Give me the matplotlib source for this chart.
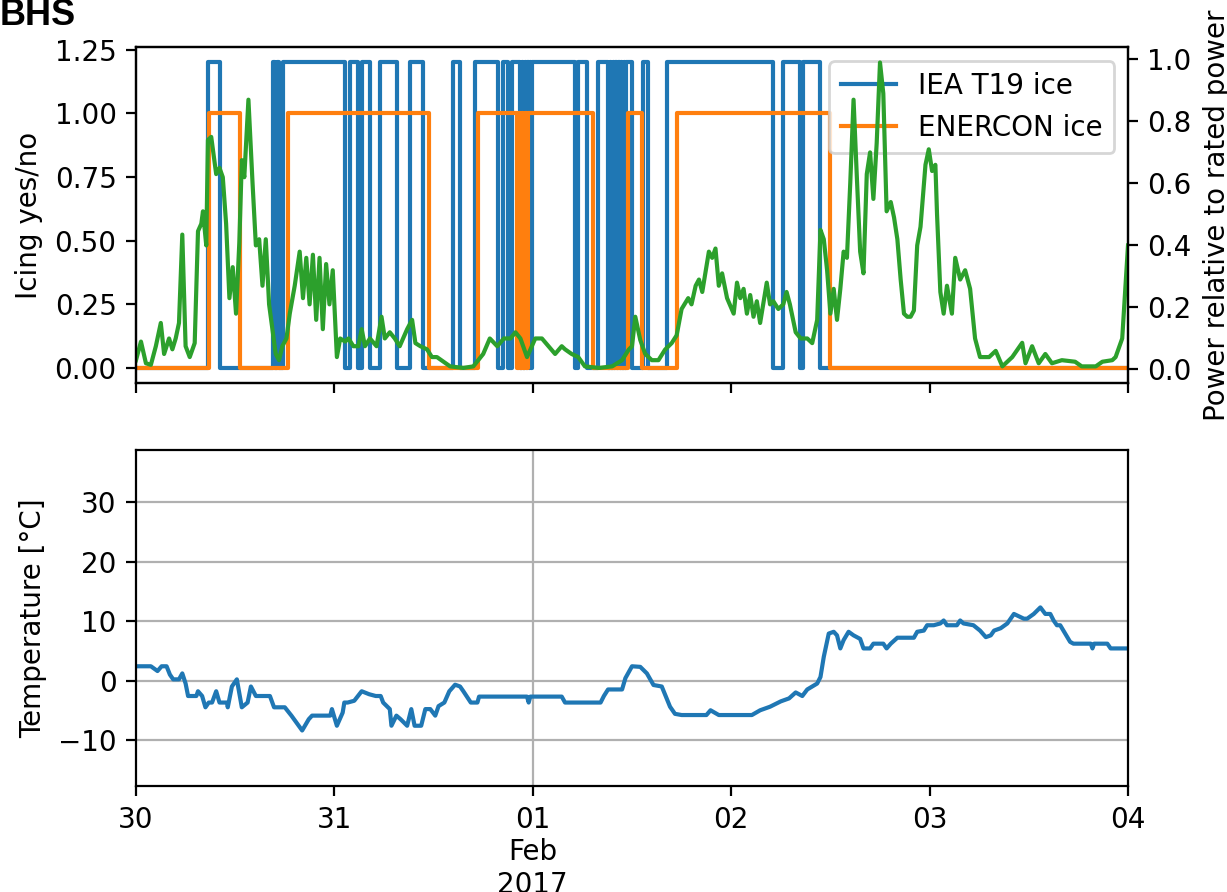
import numpy as np
import pandas as pd
import matplotlib
matplotlib.use("Agg")
import matplotlib.pyplot as plt

# ---------------- data ----------------
start_time = "2017-01-30 00:00"
end_time = "2017-02-04 00:00"

# icing periods, hours since start
iea_ice_periods = [
    (8.75, 10.17), (16.58, 16.82), (17.0, 17.25), (17.79, 25.3), (25.9, 26.87),
    (27.35, 28.32), (29.53, 31.59), (33.16, 34.74), (38.37, 39.21), (41.03, 43.81),
    (44.42, 45.02), (45.51, 46.48), (46.67, 46.83), (47.0, 47.17), (47.33, 47.5),
    (47.67, 47.83), (47.93, 53.13), (53.5, 54.58), (55.91, 57.12), (57.33, 57.5),
    (57.67, 57.83), (58.0, 58.17), (58.33, 58.5), (58.67, 58.83), (59.0, 59.17),
    (59.33, 60.03), (61.36, 61.97), (64.27, 77.1), (78.31, 80.37), (80.73, 82.79),
]
iea_level = 1.2

enercon_ice_periods = [
    (8.87, 12.6), (18.35, 35.46), (41.35, 46.11), (46.29, 46.47), (46.66, 46.84),
    (47.02, 47.26), (47.44, 55.31), (59.55, 61.24), (65.48, 84.0),
]
enercon_level = 1.0

power_hours = [
    0.0, 0.6, 1.2, 1.8, 2.4, 3.0, 3.4, 4.0, 4.4, 4.8, 5.2, 5.6, 6.0, 6.5, 7.1, 7.5, 7.9,
    8.1, 8.5, 8.7, 9.1, 9.7, 10.1, 10.5, 10.9, 11.3, 11.7, 12.1, 12.5, 12.8, 13.1, 13.6,
    14.1, 14.5, 14.9, 15.3, 15.7, 16.1, 16.9, 17.3, 17.7, 18.2, 18.6, 19.2, 19.8, 20.2,
    20.6, 21.0, 21.4, 21.8, 22.2, 22.6, 23.0, 23.4, 23.8, 24.3, 24.7, 25.3, 25.7, 26.3,
    26.9, 27.3, 27.7, 28.3, 29.1, 29.7, 30.1, 30.7, 31.3, 31.9, 32.8, 33.4, 33.8, 34.4,
    35.2, 35.8, 36.4, 37.2, 38.0, 39.6, 40.8, 42.0, 42.8, 43.7, 44.5, 45.3, 45.9, 46.5,
    47.3, 48.3, 49.1, 49.9, 50.7, 51.5, 51.9, 52.7, 53.5, 54.3, 56.0, 57.6, 58.8, 59.6,
    60.0, 60.4, 61.0, 61.6, 62.4, 63.2, 64.0, 64.8, 65.4, 66.0, 66.8, 67.2, 67.7, 68.1,
    68.5, 69.3, 69.7, 70.1, 70.5, 70.9, 71.5, 72.3, 72.7, 73.1, 73.5, 73.9, 74.3, 74.7,
    75.1, 75.5, 76.3, 76.7, 77.1, 77.7, 78.3, 78.7, 79.1, 79.8, 80.4, 81.2, 81.8, 82.4,
    82.8, 83.2, 83.6, 84.0, 84.4, 84.8, 85.2, 85.6, 86.0, 86.4, 86.8, 87.2, 87.6, 88.0,
    88.4, 88.8, 89.2, 89.6, 90.0, 90.4, 90.8, 91.3, 91.7, 92.1, 92.5, 92.9, 93.3, 93.7,
    94.1, 94.5, 94.9, 95.5, 95.9, 96.3, 96.7, 96.9, 97.3, 97.7, 98.1, 98.7, 99.1, 99.7,
    100.3, 100.9, 101.5, 102.1, 103.2, 104.0, 104.8, 106.0, 107.2, 107.6, 108.4, 109.2,
    110.0, 110.8, 112.0, 113.6, 114.4, 116.1, 116.9, 118.1, 118.5, 119.3, 120.0,
]
power_values = [
    0.03, 0.09, 0.02, 0.015, 0.075, 0.15, 0.05, 0.10, 0.065, 0.10, 0.15, 0.435, 0.075, 0.04,
    0.085, 0.446, 0.47, 0.51, 0.40, 0.74, 0.75, 0.63, 0.65, 0.62, 0.47, 0.23, 0.33, 0.18,
    0.41, 0.675, 0.62, 0.87, 0.60, 0.40, 0.42, 0.27, 0.42, 0.21, 0.05, 0.03, 0.075, 0.10,
    0.18, 0.27, 0.38, 0.23, 0.36, 0.21, 0.37, 0.16, 0.36, 0.13, 0.34, 0.21, 0.32, 0.04,
    0.10, 0.09, 0.10, 0.075, 0.075, 0.13, 0.075, 0.10, 0.075, 0.17, 0.10, 0.12, 0.10,
    0.075, 0.13, 0.16, 0.085, 0.075, 0.065, 0.04, 0.04, 0.025, 0.01, 0.005, 0.01, 0.05,
    0.10, 0.075, 0.10, 0.10, 0.12, 0.10, 0.04, 0.10, 0.10, 0.075, 0.05, 0.075, 0.065,
    0.05, 0.04, 0.01, 0.005, 0.01, 0.03, 0.064, 0.075, 0.17, 0.095, 0.05, 0.03, 0.03,
    0.064, 0.085, 0.11, 0.195, 0.23, 0.21, 0.27, 0.29, 0.25, 0.38, 0.36, 0.39, 0.27,
    0.31, 0.23, 0.18, 0.28, 0.23, 0.26, 0.18, 0.24, 0.17, 0.22, 0.15, 0.28, 0.21, 0.22,
    0.195, 0.21, 0.25, 0.21, 0.12, 0.10, 0.10, 0.085, 0.16, 0.45, 0.42, 0.32, 0.18, 0.26,
    0.16, 0.26, 0.38, 0.36, 0.60, 0.87, 0.62, 0.38, 0.31, 0.63, 0.70, 0.55, 0.73, 0.99,
    0.89, 0.51, 0.54, 0.49, 0.42, 0.29, 0.18, 0.17, 0.17, 0.19, 0.40, 0.46, 0.66, 0.71,
    0.64, 0.66, 0.50, 0.25, 0.18, 0.27, 0.18, 0.36, 0.29, 0.32, 0.26, 0.10, 0.04, 0.04,
    0.06, 0.01, 0.04, 0.086, 0.02, 0.075, 0.02, 0.05, 0.02, 0.03, 0.025, 0.01, 0.01,
    0.025, 0.03, 0.04, 0.10, 0.40,
]

temp_hours = [
    0.0, 1.8, 2.6, 3.1, 3.7, 4.1, 4.5, 5.2, 5.6, 6.0, 6.3, 7.3, 7.5, 8.0, 8.4, 8.8, 9.2,
    9.7, 10.1, 11.0, 11.1, 11.6, 12.2, 12.8, 13.5, 13.9, 14.5, 16.2, 16.7, 18.0, 18.8,
    20.1, 20.9, 21.3, 23.5, 23.7, 24.3, 25.0, 25.2, 25.6, 26.4, 27.3, 28.2, 29.0, 29.6,
    29.9, 30.7, 30.9, 31.5, 32.0, 32.8, 33.3, 33.7, 34.5, 35.0, 35.6, 36.2, 36.6, 37.3,
    37.9, 38.6, 39.2, 39.6, 40.5, 41.3, 41.5, 47.3, 47.5, 47.7, 51.5, 51.9, 56.2, 56.6,
    57.1, 58.8, 59.2, 60.0, 61.0, 61.8, 62.6, 63.6, 64.6, 65.2, 66.0, 69.0, 69.5, 70.5,
    74.5, 75.5, 76.7, 78.0, 79.0, 79.8, 80.6, 81.2, 81.8, 82.4, 82.8, 83.2,
    83.8, 84.4, 84.8, 85.2, 85.6, 86.2, 86.8, 87.6, 88.0, 88.8, 89.2, 90.4, 90.8, 91.3,
    92.1, 94.1, 94.5, 95.3, 95.7, 96.5, 97.3, 97.7, 98.1, 99.3, 99.7, 100.1, 101.3, 102.1,
    102.8, 103.4, 103.8, 104.6, 105.4, 105.8, 106.2, 107.4, 107.8, 108.6, 109.4, 110.0,
    110.6, 111.0, 111.4, 111.8, 113.0, 113.4, 115.5, 115.7, 115.9, 117.5, 117.9, 120.0,
]
temp_values = [
    2.4, 2.4, 1.6, 2.4, 2.4, 1.0, 0.2, 0.2, 1.2, -0.5, -2.6, -2.6, -1.8, -2.6, -4.5, -3.7,
    -3.7, -1.8, -3.7, -3.7, -4.5, -1.0, 0.2, -4.5, -3.7, -1.0, -2.6, -2.6, -4.5, -4.5,
    -5.9, -8.4, -6.5, -5.9, -5.9, -4.8, -7.6, -5.4, -3.7, -3.7, -3.4, -1.8, -2.3, -2.6,
    -2.6, -3.7, -4.8, -7.6, -5.9, -6.5, -7.6, -4.8, -7.6, -7.6, -4.8, -4.8, -5.9, -4.3,
    -3.7, -1.8, -0.7, -1.0, -1.8, -3.7, -3.7, -2.7, -2.7, -3.7, -2.7, -2.7, -3.7, -3.7,
    -2.6, -1.5, -1.5, 0.4, 2.4, 2.3, 1.2, -0.75, -1.0, -4.4, -5.6, -5.8, -5.8, -5.0, -5.8,
    -5.8, -5.0, -4.4, -3.5, -3.0, -2.0, -2.6, -1.5, -1.0, -0.5, 0.6, 4.0,
    7.9, 8.2, 7.6, 5.4, 6.8, 8.2, 7.6, 7.0, 5.4, 5.4, 6.2, 6.2, 5.4, 6.2,
    7.2, 7.2, 8.2, 8.4, 9.3, 9.3, 9.6, 10.1, 9.3, 9.3, 10.1, 9.6, 9.3, 8.4,
    7.3, 7.6, 8.4, 8.8, 9.6, 10.4, 11.2, 10.4, 10.4, 11.2, 12.3, 11.2,
    11.2, 10.1, 9.3, 9.3, 6.5, 6.2, 6.2, 5.4, 6.2, 6.2, 5.4, 5.4,
]

day_ticks = ["2017-01-30", "2017-01-31", "2017-02-01", "2017-02-02", "2017-02-03", "2017-02-04"]
day_labels = ["30", "31", "01\nFeb\n2017", "02", "03", "04"]
month_start = "2017-02-01"

icing_ticks = [0.0, 0.25, 0.5, 0.75, 1.0, 1.25]
power_ticks = [0.0, 0.2, 0.4, 0.6, 0.8, 1.0]
temp_ticks = [-10, 0, 10, 20, 30]
temp_limits = (-17.8, 38.7)

# ---------------- helpers ----------------
t0 = pd.Timestamp(start_time)


def to_time(hours):
    return t0 + pd.to_timedelta(np.asarray(hours, dtype=float), unit="h")


def step_series(periods, level, total_hours=120.0):
    hrs, vals = [0.0], [0.0]
    for s, e in periods:
        hrs += [s, s, e, e]
        vals += [0.0, level, level, 0.0]
    hrs.append(total_hours)
    vals.append(0.0)
    return hrs, vals


plt.rcParams["font.family"] = ["DejaVu Sans"]
plt.rcParams["font.size"] = 10

W, H, DPI = 1227, 892, 200
fig = plt.figure(figsize=(W / DPI, H / DPI), dpi=DPI)

left = 136 / W
width = 992 / W
ax_h = 336 / H
ax1 = fig.add_axes([left, (H - 383.2) / H, width, ax_h])
ax3 = fig.add_axes([left, (H - 786.4) / H, width, ax_h], sharex=ax1)
ax2 = ax1.twinx()

ih, iv = step_series(iea_ice_periods, iea_level)
eh, ev = step_series(enercon_ice_periods, enercon_level)
ax1.plot(to_time(ih), iv, color="C0", lw=1.5, label="IEA T19 ice")
ax1.plot(to_time(eh), ev, color="C1", lw=1.5, label="ENERCON ice")
ax1.set_yticks(icing_ticks)
ax1.set_ylabel("Icing yes/no")
ax1.legend(loc="upper right")

ax2.plot(to_time(power_hours), power_values, color="C2", lw=1.5)
ax2.set_yticks(power_ticks)
ax2.set_ylabel("Power relative to rated power")

ax3.plot(to_time(temp_hours), temp_values, color="C0", lw=1.5)
ax3.set_ylim(*temp_limits)
ax3.set_yticks(temp_ticks)
ax3.set_ylabel("Temperature [°C]")
ax3.grid(True, axis="y", color="#b0b0b0", lw=0.8)
ax3.axvline(pd.Timestamp(month_start), color="#b0b0b0", lw=0.8, zorder=0.5)

ticks = pd.to_datetime(day_ticks)
ax3.set_xticks(ticks)
ax3.set_xticklabels(day_labels)
ax3.set_xlim(pd.Timestamp(start_time), pd.Timestamp(end_time))
plt.setp(ax1.get_xticklabels(), visible=False)

fig.text(0.0, 1 - 25 / H, "BHS", fontsize=13, fontweight="bold",
         family=["Liberation Sans", "DejaVu Sans"], va="baseline", ha="left")

fig.savefig("out.png", dpi=DPI)
